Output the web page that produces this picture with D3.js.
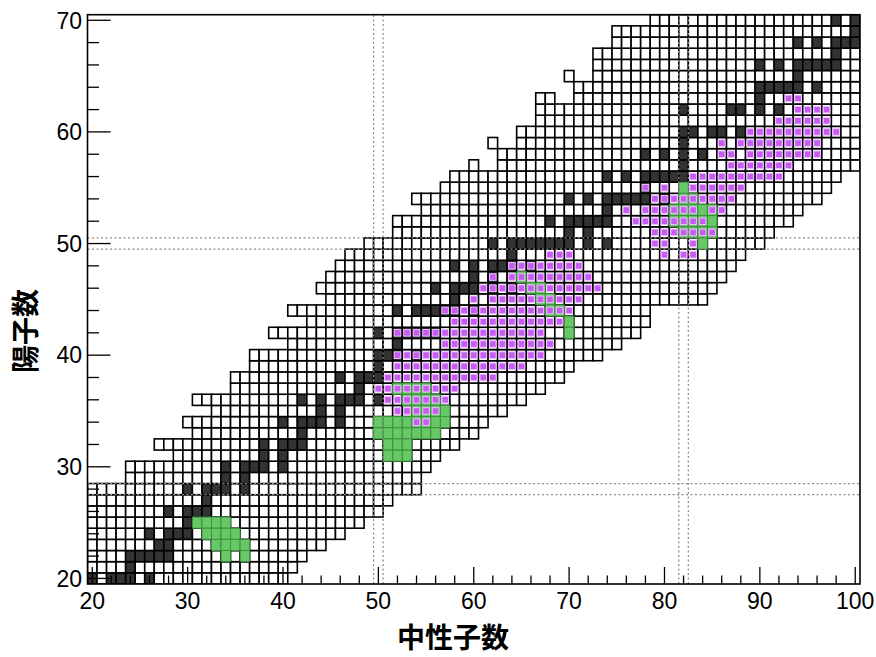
<!DOCTYPE html>
<html>
<head>
<meta charset="utf-8">
<script src="https://cdn.jsdelivr.net/npm/d3@7/dist/d3.min.js"></script>
<style>
  body { margin: 0; background: #fff; }
</style>
</head>
<body>
<div id="chart"></div>
<script>
// one entry per proton number: lightest and heaviest known neutron number
const protonZ = [20,21,22,23,24,25,26,27,28,29,30,31,32,33,34,35,36,37,38,39,40,41,42,43,44,45,
                 46,47,48,49,50,51,52,53,54,55,56,57,58,59,60,61,62,63,64,65,66,67,68,69,70];
const nLow  = [20,20,20,20,20,20,20,20,20,24,24,29,27,31,30,33,31,35,35,37,37,41,39,43,41,45,
               44,45,46,47,49,52,52,55,54,57,58,60,63,62,65,67,67,67,71,70,73,73,75,75,79];
const nHigh = [40,41,42,44,46,48,50,51,54,54,55,56,58,60,61,63,65,67,69,70,73,75,77,78,78,84,
               85,86,87,88,90,91,93,94,96,97,98,100,100,100,100,100,100,100,100,100,100,100,100,100,100];
// unknown nuclides inside a row [Z, N]
const unknownCells = [[57,61],[57,62],[59,63],[59,64],[63,69],[63,70],[65,71],[65,72]];

// stable nuclides: neutron numbers for each proton number in protonZ
const stableN = [
  [20,22,23,24,26],[24],[24,25,26,27,28],[27,28],[26,28,29,30],[30],[28,30,31,32],[32],
  [30,32,33,34,36],[34,36],[34,36,37,38,40],[38,40],[38,40,41,42],[42],[40,42,43,44,46],
  [44,46],[42,44,46,47,48,50],[48],[46,48,49,50],[50],[50,51,52,54],[52],[50,52,53,54,55,56],
  [],[52,54,55,56,57,58,60],[58],[56,58,59,60,62,64],[60,62],[58,60,62,63,64,66],[64],
  [62,64,65,66,67,68,69,70,72,74],[70,72],[68,70,71,72,73,74],[74],[70,72,74,75,76,77,78,80],
  [78],[74,76,78,79,80,81,82],[82],[78,80,82,84],[82],[82,83,85,86,88],[],[82,87,88,90,92],
  [90],[90,91,92,93,94,96],[94],[90,92,94,95,96,97,98],[98],[94,96,98,99,100],[100],[98,100]
];

// green cells as runs [Z, Nfrom, Nto]
const greenRuns = [
  [25,31,34],[24,32,35],[23,33,36],[22,34,34],[22,36,36],
  [37,52,55],[36,53,56],[35,54,57],[34,50,57],[33,50,56],[32,51,53],[31,51,53],
  [47,65,65],[46,66,67],[45,67,68],[44,68,69],[43,70,70],[42,70,70],
  [55,82,82],[54,82,83],[53,81,85],[52,81,85],[51,82,85],[50,84,84]
];

// purple markers as runs [Z, Nfrom, Nto]
const purpleRuns = [
  [63,93,94],[62,94,97],[61,92,97],[60,89,98],[59,86,86],[59,88,96],[58,86,87],[58,89,96],
  [57,87,93],[56,83,92],[55,78,78],[55,80,80],[55,83,88],[54,79,87],[53,76,76],[53,78,83],
  [53,85,86],[52,77,84],[51,79,85],[50,79,80],[50,83,83],[49,80,80],[49,82,83],
  [49,68,70],[48,64,71],[47,62,62],[47,64,72],[46,61,73],[45,60,60],[45,62,71],
  [44,57,70],[43,58,69],[42,52,67],[41,57,68],[40,52,67],[39,52,65],[38,51,62],
  [37,50,58],[36,51,57],[35,52,56],[34,54,55]
];

const xTicks = [20,30,40,50,60,70,80,90,100];
const yTicks = [20,30,40,50,60,70];
const magicN = [50,82];
const magicZ = [28,50];

const width = 876, height = 657;
const svg = d3.select("#chart").append("svg")
    .attr("width", width)
    .attr("height", height);

const x = d3.scaleLinear().domain([19.5, 100.5]).range([87.5, 860]);
const y = d3.scaleLinear().domain([19.5, 70.5]).range([584, 14.7]);

const key = (z, n) => z + ":" + n;
const gaps = new Set(unknownCells.map(d => key(d[0], d[1])));
const stableSet = new Set();
protonZ.forEach((z, i) => stableN[i].forEach(n => stableSet.add(key(z, n))));

// every known nuclide inside the visible window
const known = [];
protonZ.forEach((z, i) => {
    for (let n = Math.max(nLow[i], 20); n <= Math.min(nHigh[i], 100); n++) {
        if (!gaps.has(key(z, n))) known.push({z: z, n: n, stable: stableSet.has(key(z, n))});
    }
});

const expand = runs => {
    const out = [];
    runs.forEach(r => { for (let n = r[1]; n <= r[2]; n++) out.push({z: r[0], n: n}); });
    return out;
};
const greens = expand(greenRuns);
const purples = expand(purpleRuns);

const cellX = d => x(d.n - 0.5);
const cellY = d => y(d.z + 0.5);
const cellW = d => x(d.n + 0.5) - x(d.n - 0.5);
const cellH = d => y(d.z - 0.5) - y(d.z + 0.5);

svg.append("defs").append("clipPath").attr("id", "frame")
  .append("rect")
    .attr("x", x(19.5)).attr("y", y(70.5))
    .attr("width", x(100.5) - x(19.5)).attr("height", y(19.5) - y(70.5));

const plot = svg.append("g").attr("clip-path", "url(#frame)");

// nuclide boxes
plot.append("g")
    .selectAll("rect")
    .data(known)
    .join("rect")
    .attr("x", cellX)
    .attr("y", cellY)
    .attr("width", cellW)
    .attr("height", cellH)
    .attr("fill", d => d.stable ? "#333333" : "#ffffff")
    .attr("stroke", "#000")
    .attr("stroke-width", 1.6);

// green boxes
plot.append("g")
    .selectAll("rect")
    .data(greens)
    .join("rect")
    .attr("x", cellX)
    .attr("y", cellY)
    .attr("width", cellW)
    .attr("height", cellH)
    .attr("fill", "#66c966")
    .attr("stroke", "#3f8f3f")
    .attr("stroke-width", 1);

// magic number guide lines
const dots = plot.append("g")
    .attr("stroke", "#8a8a8a")
    .attr("stroke-width", 1.2)
    .attr("stroke-dasharray", "2,2.5");
magicN.forEach(m => [m - 0.5, m + 0.5].forEach(v => {
    dots.append("line").attr("x1", x(v)).attr("x2", x(v)).attr("y1", y(19.5)).attr("y2", y(70.5));
}));
magicZ.forEach(m => [m - 0.5, m + 0.5].forEach(v => {
    dots.append("line").attr("y1", y(v)).attr("y2", y(v)).attr("x1", x(19.5)).attr("x2", x(100.5));
}));

// purple markers
const ms = 6.6;
plot.append("g")
    .selectAll("rect")
    .data(purples)
    .join("rect")
    .attr("x", d => x(d.n) - ms / 2)
    .attr("y", d => y(d.z) - ms / 2)
    .attr("width", ms)
    .attr("height", ms)
    .attr("fill", "#c85cf2")
    .attr("stroke", "#ecc0ff")
    .attr("stroke-width", 1);

// frame
svg.append("rect")
    .attr("x", x(19.5)).attr("y", y(70.5))
    .attr("width", x(100.5) - x(19.5)).attr("height", y(19.5) - y(70.5))
    .attr("fill", "none")
    .attr("stroke", "#000")
    .attr("stroke-width", 1.6);

// ticks inside the frame
const axisG = svg.append("g").attr("stroke", "#000").attr("stroke-width", 1.3);
d3.range(20, 101, 2).forEach(v => {
    const len = v % 10 === 0 ? 17 : 8.5;
    axisG.append("line").attr("x1", x(v)).attr("x2", x(v)).attr("y1", y(19.5)).attr("y2", y(19.5) - len);
});
d3.range(20, 71, 2).forEach(v => {
    const len = v % 10 === 0 ? 23 : 11.5;
    axisG.append("line").attr("y1", y(v)).attr("y2", y(v)).attr("x1", x(19.5)).attr("x2", x(19.5) + len);
});

svg.append("g")
    .selectAll("text")
    .data(xTicks)
    .join("text")
    .attr("x", d => x(d))
    .attr("y", 609)
    .attr("text-anchor", "middle")
    .attr("font-family", "'Liberation Sans', Arial, sans-serif")
    .attr("font-size", 23)
    .text(d => d);

svg.append("g")
    .selectAll("text")
    .data(yTicks)
    .join("text")
    .attr("x", 82)
    .attr("y", d => y(d))
    .attr("dy", "0.36em")
    .attr("text-anchor", "end")
    .attr("font-family", "'Liberation Sans', Arial, sans-serif")
    .attr("font-size", 23)
    .text(d => d);

svg.append("text")
    .attr("x", 453)
    .attr("y", 648)
    .attr("text-anchor", "middle")
    .attr("font-family", "'Noto Sans CJK JP', sans-serif")
    .attr("font-weight", 700)
    .attr("font-size", 28)
    .text("中性子数");

svg.append("text")
    .attr("transform", "translate(36,331) rotate(-90)")
    .attr("text-anchor", "middle")
    .attr("font-family", "'Noto Sans CJK JP', sans-serif")
    .attr("font-weight", 700)
    .attr("font-size", 28)
    .text("陽子数");
</script>
</body>
</html>
